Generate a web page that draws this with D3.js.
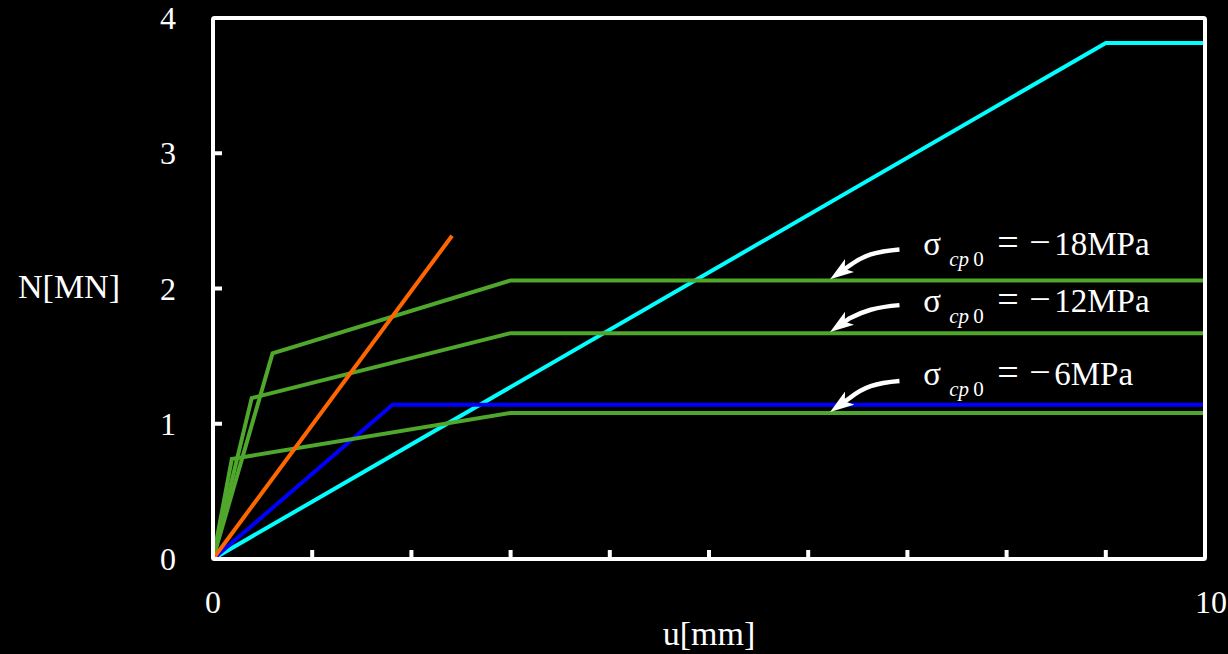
<!DOCTYPE html>
<html>
<head>
<meta charset="utf-8">
<script src="https://cdn.jsdelivr.net/npm/d3@7"></script>
<style>
  html, body { margin: 0; padding: 0; background: #000; }
  svg { display: block; }
  text { font-family: "Liberation Serif", "Times New Roman", serif; fill: #fff; }
</style>
</head>
<body>
<div id="chart"></div>
<script>
// load-displacement curves, u in mm, N in MN
const cyanLine   = [[0, 0], [9.0, 3.815], [10, 3.815]];
const blueLine   = [[0, 0], [1.81, 1.14], [10, 1.14]];
const orangeLine = [[0, 0], [2.41, 2.39]];
const green6     = [[0, 0], [0.19, 0.74], [3.0, 1.08], [10, 1.08]];
const green12    = [[0, 0], [0.39, 1.19], [3.0, 1.67], [10, 1.67]];
const green18    = [[0, 0], [0.6, 1.52], [3.0, 2.06], [10, 2.06]];

const xTicks = d3.range(0, 11);
const xTickLabels = [0, 10];
const yTicks = [0, 1, 2, 3, 4];

// annotation labels: stress value and the curve level the arrow points to
const labelStress = ["18MPa", "12MPa", "6MPa"];
const labelLevel  = [2.06, 1.67, 1.08];

const config = {
  width: 1228, height: 654,
  margin: {top: 18, right: 23, bottom: 95, left: 213}
};

const svg = d3.select('#chart').append('svg')
  .attr('width', config.width)
  .attr('height', config.height);

svg.append('rect').attr('width', config.width).attr('height', config.height).attr('fill', '#000');

const x = d3.scaleLinear().domain([0, 10])
  .range([config.margin.left, config.width - config.margin.right]);
const y = d3.scaleLinear().domain([0, 4])
  .range([config.height - config.margin.bottom, config.margin.top]);

const line = d3.line().x(d => x(d[0])).y(d => y(d[1]));

const series = [
  {data: cyanLine, color: '#00ffff'},
  {data: blueLine, color: '#0000ff'},
  {data: green6, color: '#4fa72b'},
  {data: green12, color: '#4fa72b'},
  {data: green18, color: '#4fa72b'},
  {data: orangeLine, color: '#ff6600'}
];

svg.append('g').selectAll('path')
  .data(series)
  .join('path')
  .attr('d', d => line(d.data))
  .attr('fill', 'none')
  .attr('stroke', d => d.color)
  .attr('stroke-width', 4)
  .attr('stroke-linejoin', 'miter');

// frame
svg.append('rect')
  .attr('x', x(0)).attr('y', y(4))
  .attr('width', x(10) - x(0)).attr('height', y(0) - y(4))
  .attr('fill', 'none').attr('stroke', '#fff').attr('stroke-width', 4)
  .attr('rx', 1.5);

// inward ticks
svg.append('g').selectAll('line')
  .data(xTicks.slice(1, -1))
  .join('line')
  .attr('x1', d => x(d)).attr('x2', d => x(d))
  .attr('y1', y(0)).attr('y2', y(0) - 9)
  .attr('stroke', '#fff').attr('stroke-width', 4);

svg.append('g').selectAll('line')
  .data(yTicks.slice(1, -1))
  .join('line')
  .attr('x1', x(0)).attr('x2', x(0) + 9)
  .attr('y1', d => y(d)).attr('y2', d => y(d))
  .attr('stroke', '#fff').attr('stroke-width', 4);

// tick labels
svg.append('g').selectAll('text')
  .data(xTickLabels)
  .join('text')
  .attr('x', d => x(d) + (d === 10 ? 6 : 0))
  .attr('y', y(0) + 54)
  .attr('text-anchor', 'middle')
  .style('font-size', '32px')
  .text(d => d);

svg.append('g').selectAll('text')
  .data(yTicks)
  .join('text')
  .attr('x', x(0) - 37)
  .attr('y', d => y(d) + 11)
  .attr('text-anchor', 'end')
  .style('font-size', '32px')
  .text(d => d);

// axis titles
svg.append('text')
  .attr('x', 18).attr('y', 298)
  .style('font-size', '34px')
  .text('N[MN]');

svg.append('text')
  .attr('x', (x(0) + x(10)) / 2).attr('y', 645)
  .attr('text-anchor', 'middle')
  .style('font-size', '34px')
  .text('u[mm]');

// arrowhead
svg.append('defs').append('marker')
  .attr('id', 'arrow')
  .attr('viewBox', '0 0 24 16')
  .attr('refX', 10).attr('refY', 8)
  .attr('markerWidth', 24).attr('markerHeight', 16)
  .attr('markerUnits', 'userSpaceOnUse')
  .attr('orient', 'auto')
  .append('path')
  .attr('d', 'M0,0 L24,8 L0,16 L6,8 Z')
  .attr('fill', '#fff');

const tailOffsets = [31, 28, 32];
const textOffsets = [25, 21, 28];

labelStress.forEach((s, i) => {
  const tipX = x(6.22), tipY = y(labelLevel[i]) - 1;
  const tailX = x(6.92), tailY = y(labelLevel[i]) - tailOffsets[i];
  // arrow end direction (down-left)
  const ex = tipX + 0.82 * 14, ey = tipY - 0.58 * 14;
  svg.append('path')
    .attr('d', `M${tailX},${tailY} C${tailX - 24},${tailY + 2} ${tailX - 36},${tailY + 6} ${ex + 8.2},${ey - 5.8} L${ex},${ey}`)
    .attr('fill', 'none')
    .attr('stroke', '#fff')
    .attr('stroke-width', 4.5)
    .attr('stroke-linecap', 'butt')
    .attr('marker-end', 'url(#arrow)');

  const base = y(labelLevel[i]) - textOffsets[i];
  const left = x(7.16);
  const t = svg.append('text')
    .attr('y', base)
    .style('font-size', '33px');
  t.append('tspan').attr('x', left).text('\u03c3');
  t.append('tspan').attr('x', left + 26).attr('dy', 11)
    .style('font-size', '21px').style('font-style', 'italic').text('cp');
  t.append('tspan').attr('x', left + 50)
    .style('font-size', '21px').text('0');
  t.append('tspan').attr('x', left + 74).attr('dy', -11)
    .style('font-size', '38px').text('=');
  t.append('tspan').attr('x', left + 106)
    .style('font-size', '38px').text('\u2212');
  t.append('tspan').attr('x', left + 131).text(s);
});
</script>
</body>
</html>
